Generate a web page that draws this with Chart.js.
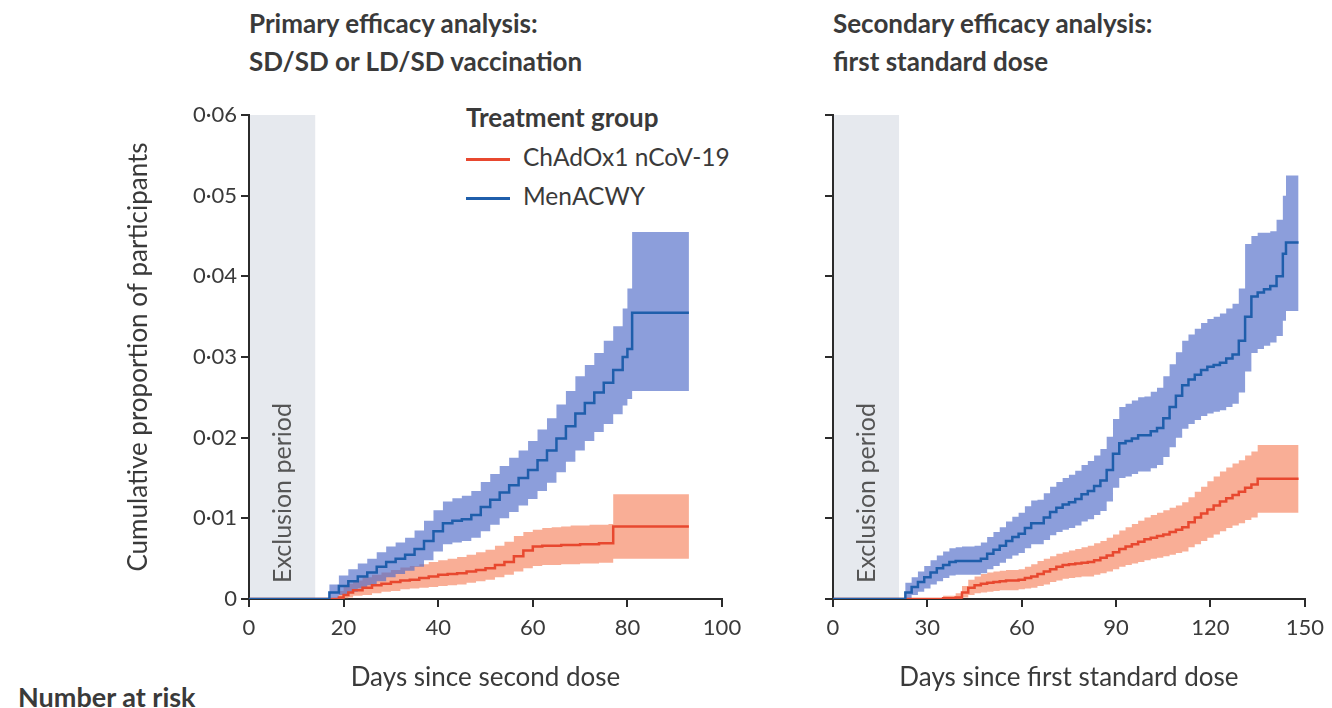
<!DOCTYPE html>
<html>
<head>
<meta charset="utf-8">
<script src="https://cdn.jsdelivr.net/npm/chart.js@4.4.1/dist/chart.umd.min.js"></script>
<style>
  body { margin: 0; width: 1332px; height: 708px; overflow: hidden; background: #fff; font-family: Lato, "Noto Sans", sans-serif; color: #3a3a3a; }
  .panel { position: absolute; top: 0; }
  .title { position: absolute; top: 4px; font-weight: bold; font-size: 26px; line-height: 38px; white-space: nowrap; }
  .legend { position: absolute; left: 466px; top: 98px; font-size: 24.5px; line-height: 39px; white-space: nowrap; }
  .legend b { display: block; font-size: 26px; }
  .legend .sw { display: inline-block; width: 44px; height: 3px; margin-right: 13px; vertical-align: middle; }
  .risk { position: absolute; left: 18px; top: 681px; font-weight: bold; font-size: 27px; line-height: 32px; }
</style>
</head>
<body>
<div class="title" style="left:249px">Primary efficacy analysis:<br>SD/SD or LD/SD vaccination</div>
<div class="title" style="left:833px">Secondary efficacy analysis:<br>first standard dose</div>
<div class="legend">
  <b>Treatment group</b>
  <div><span class="sw" style="background:#e8482f"></span>ChAdOx1 nCoV-19</div>
  <div><span class="sw" style="background:#1f5eab"></span>MenACWY</div>
</div>
<div class="risk">Number at risk</div>
<canvas id="primary" class="panel" style="left:0" width="760" height="708"></canvas>
<canvas id="secondary" class="panel" style="left:760px" width="572" height="708"></canvas>
<script>
// Primary analysis: days since second dose
const primaryExclusion = 14;
const primaryMenDays = [0, 15, 17, 19, 21, 23, 25, 27, 29, 31, 33, 35, 37, 39, 41, 43, 45, 47, 49, 51, 53, 55,
  57, 59, 61, 63, 65, 67, 69, 71, 73, 75, 77, 79, 80, 81, 93];
const primaryMenLine = [0, 0, .0008, .0016, .0022, .0028, .0033, .0040, .0046, .0050, .0055, .0062,
  .0072, .0084, .0094, .0097, .0099, .0104, .0114, .0123, .0132, .0141,
  .0150, .0160, .0172, .0184, .0199, .0214, .0230, .0243, .0256, .0268,
  .0284, .0300, .0310, .0355, .0355];
const primaryMenHigh = [0, 0, .0018, .0029, .0037, .0044, .0050, .0058, .0065, .0070, .0076, .0085,
  .0097, .0110, .0121, .0125, .0128, .0134, .0145, .0155, .0165, .0175,
  .0184, .0196, .0210, .0224, .0241, .0258, .0276, .0290, .0305, .0320,
  .0338, .0360, .0385, .0455, .0455];
const primaryMenLow = [0, 0, .0001, .0005, .0009, .0013, .0017, .0022, .0027, .0031, .0035, .0040,
  .0048, .0059, .0068, .0070, .0072, .0076, .0084, .0092, .0100, .0108,
  .0116, .0124, .0134, .0144, .0157, .0170, .0184, .0196, .0207, .0217,
  .0229, .0240, .0248, .0258, .0258];

const primaryChadDays = [0, 18, 19, 20, 21, 22, 24, 26, 28, 30, 32, 34, 36, 38, 40, 42, 44, 46, 48, 50, 52, 54,
  56, 58, 60, 62, 64, 66, 68, 70, 72, 74, 76, 77, 93];
const primaryChadLine = [0, 0, .0002, .0005, .0008, .0011, .0014, .0017, .0019, .0021, .0023, .0024,
  .0026, .0028, .0030, .0031, .0032, .0034, .0036, .0038, .0042, .0046,
  .0053, .0060, .0065, .0066, .0066, .0067, .0067, .0068, .0068, .0069, .0069, .0090, .0090];
const primaryChadHigh = [0, 0, .0010, .0015, .0019, .0023, .0027, .0030, .0033, .0036, .0039, .0041,
  .0043, .0046, .0048, .0050, .0052, .0055, .0058, .0061, .0066, .0071,
  .0078, .0083, .0086, .0088, .0089, .0090, .0091, .0091, .0092, .0092, .0093, .0130, .0130];
const primaryChadLow = [0, 0, 0, .0001, .0002, .0004, .0005, .0007, .0009, .0010, .0012, .0013,
  .0014, .0015, .0016, .0017, .0018, .0020, .0022, .0024, .0027, .0030,
  .0034, .0038, .0041, .0042, .0042, .0043, .0043, .0044, .0044, .0045, .0045, .0050, .0050];

// Secondary analysis: days since first standard dose
const secondaryExclusion = 21;
const secondaryMenDays = [0, 21, 23, 25, 27, 29, 31, 33, 35, 37, 39, 41, 43, 45, 47, 49, 51, 53, 55, 57, 59, 61,
  63, 65, 67, 69, 71, 73, 75, 77, 79, 81, 83, 85, 87, 89, 91, 93, 95, 97, 99, 101,
  103, 105, 107, 109, 111, 113, 115, 117, 119, 121, 123, 125, 127, 129, 131, 133, 135, 137, 139, 141,
  143, 144, 148];
const secondaryMenLine = [0, 0, .0008, .0015, .0021, .0027, .0033, .0038, .0042, .0046, .0047, .0047,
  .0047, .0047, .0050, .0056, .0061, .0066, .0072, .0077, .0081, .0088,
  .0094, .0094, .0101, .0108, .0113, .0117, .0120, .0124, .0130, .0134,
  .0140, .0147, .0160, .0180, .0193, .0196, .0199, .0203, .0203, .0208,
  .0212, .0224, .0238, .0252, .0265, .0272, .0278, .0284, .0288, .0290,
  .0293, .0298, .0303, .0320, .0350, .0375, .0380, .0384, .0388, .0400,
  .0428, .0442, .0442];
const secondaryMenHigh = [0, 0, .0020, .0027, .0034, .0041, .0048, .0054, .0059, .0063, .0064, .0065,
  .0065, .0066, .0070, .0077, .0083, .0089, .0096, .0102, .0107, .0115,
  .0122, .0123, .0131, .0139, .0145, .0150, .0154, .0159, .0166, .0171,
  .0178, .0186, .0201, .0223, .0238, .0242, .0246, .0250, .0251, .0257,
  .0262, .0276, .0291, .0306, .0320, .0328, .0335, .0342, .0347, .0350,
  .0354, .0360, .0366, .0385, .0440, .0450, .0454, .0454, .0456, .0470,
  .0500, .0525, .0525];
const secondaryMenLow = [0, 0, .0001, .0005, .0009, .0013, .0018, .0022, .0026, .0029, .0030, .0030,
  .0030, .0030, .0032, .0037, .0041, .0045, .0050, .0054, .0057, .0063,
  .0068, .0068, .0073, .0079, .0083, .0086, .0088, .0091, .0096, .0099,
  .0104, .0109, .0121, .0138, .0150, .0152, .0155, .0158, .0158, .0162,
  .0166, .0176, .0188, .0200, .0211, .0217, .0222, .0227, .0230, .0232,
  .0234, .0238, .0242, .0256, .0282, .0305, .0310, .0314, .0318, .0326,
  .0345, .0357, .0357];

const secondaryChadDays = [0, 30, 35, 39, 41, 43, 45, 47, 49, 51, 53, 55, 57, 59, 61, 63, 65, 67, 69, 71, 73, 75,
  77, 79, 81, 83, 85, 87, 89, 91, 93, 95, 97, 99, 101, 103, 105, 107, 109, 111, 113, 115,
  117, 119, 121, 123, 125, 127, 129, 131, 133, 135, 148];
const secondaryChadLine = [0, 0, .0001, .0002, .0008, .0014, .0017, .0019, .0020, .0021, .0022, .0023,
  .0023, .0024, .0026, .0028, .0031, .0034, .0037, .0040, .0042, .0043,
  .0044, .0045, .0046, .0048, .0051, .0054, .0058, .0062, .0065, .0068,
  .0071, .0074, .0076, .0078, .0080, .0083, .0086, .0089, .0095, .0101,
  .0106, .0111, .0116, .0121, .0125, .0129, .0133, .0138, .0142, .0149, .0149];
const secondaryChadHigh = [0, 0, .0004, .0007, .0016, .0024, .0028, .0031, .0033, .0034, .0035, .0036,
  .0036, .0037, .0040, .0043, .0047, .0050, .0053, .0056, .0058, .0060,
  .0062, .0064, .0066, .0069, .0072, .0076, .0080, .0085, .0089, .0093,
  .0097, .0101, .0104, .0107, .0110, .0113, .0116, .0120, .0126, .0133,
  .0139, .0146, .0152, .0158, .0163, .0168, .0172, .0178, .0183, .0191, .0191];
const secondaryChadLow = [0, 0, 0, 0, .0002, .0005, .0007, .0008, .0009, .0010, .0011, .0011,
  .0011, .0012, .0013, .0014, .0016, .0018, .0021, .0023, .0025, .0026,
  .0027, .0028, .0028, .0030, .0032, .0034, .0037, .0040, .0042, .0044,
  .0046, .0048, .0050, .0051, .0053, .0055, .0057, .0059, .0064, .0068,
  .0072, .0076, .0080, .0084, .0088, .0091, .0094, .0098, .0101, .0107, .0107];

const FONT = 'Lato, "Noto Sans", sans-serif';
const TEXT = '#3a3a3a';
const AXIS = '#2b2b2b';
const BLUE = '#1f5eab';
const RED = '#e8482f';
const BLUE_BAND = 'rgba(80, 108, 200, 0.66)';
const RED_BAND = 'rgba(246, 140, 105, 0.70)';

function pts(days, vals) {
  return days.map((d, i) => ({ x: d, y: vals[i] }));
}

// zona gris del periodo de exclusión + texto vertical
const exclusionPlugin = {
  id: 'exclusion',
  beforeDraw(chart, args, opts) {
    const { ctx, scales: { x, y } } = chart;
    const x0 = x.getPixelForValue(0);
    const x1 = x.getPixelForValue(opts.end);
    const yTop = y.getPixelForValue(y.max);
    const yBot = y.getPixelForValue(0);
    ctx.save();
    ctx.fillStyle = '#e6e9ee';
    ctx.fillRect(x0, yTop, x1 - x0, yBot - yTop);
    ctx.translate((x0 + x1) / 2 + 1, yBot - 16);
    ctx.rotate(-Math.PI / 2);
    ctx.fillStyle = '#555';
    ctx.font = '25px ' + FONT;
    ctx.textAlign = 'left';
    ctx.textBaseline = 'middle';
    ctx.fillText('Exclusion period', 0, 0);
    ctx.restore();
  }
};

function band(days, high, low, color, order) {
  return [
    { data: pts(days, high), fill: '+1', backgroundColor: color, borderWidth: 0, borderColor: 'transparent', stepped: true, pointRadius: 0, order: order },
    { data: pts(days, low), fill: false, borderWidth: 0, borderColor: 'transparent', stepped: true, pointRadius: 0, order: order }
  ];
}

function line(days, vals, color) {
  return { data: pts(days, vals), fill: false, borderColor: color, borderWidth: 2.5, stepped: true, pointRadius: 0, order: 0 };
}

function makeChart(id, cfg) {
  const axisGrid = { drawOnChartArea: false, drawTicks: true, tickLength: 8, color: AXIS, lineWidth: 2 };
  const axisBorder = { color: AXIS, width: 2 };
  return new Chart(document.getElementById(id), {
    type: 'line',
    data: {
      datasets: [
        ...band(cfg.menDays, cfg.menHigh, cfg.menLow, BLUE_BAND, 2),
        ...band(cfg.chadDays, cfg.chadHigh, cfg.chadLow, RED_BAND, 3),
        line(cfg.menDays, cfg.menLine, BLUE),
        line(cfg.chadDays, cfg.chadLine, RED)
      ]
    },
    options: {
      responsive: false,
      animation: false,
      layout: { padding: cfg.padding },
      plugins: { legend: { display: false }, tooltip: { enabled: false }, exclusion: { end: cfg.exclusion } },
      scales: {
        x: {
          type: 'linear', min: 0, max: cfg.xMax,
          ticks: { stepSize: cfg.xStep, font: { family: FONT, size: 22 }, color: TEXT, padding: 8, maxRotation: 0 },
          grid: axisGrid, border: axisBorder,
          title: { display: true, text: cfg.xTitle, font: { family: FONT, size: 26 }, color: TEXT, padding: { top: 0, bottom: 1 } },
          afterFit: s => { s.height = 95; }
        },
        y: {
          min: 0, max: 0.06,
          ticks: {
            stepSize: 0.01, font: { family: FONT, size: 22 }, color: TEXT, padding: 4,
            callback: v => cfg.yLabels ? (v === 0 ? '0' : v.toFixed(2).replace('.', '·')) : ''
          },
          grid: axisGrid, border: axisBorder,
          title: { display: cfg.yLabels, text: 'Cumulative proportion of participants', font: { family: FONT, size: 26 }, color: TEXT, padding: 0 },
          afterFit: s => { s.width = cfg.yWidth; }
        }
      }
    },
    plugins: [exclusionPlugin]
  });
}

makeChart('primary', {
  menDays: primaryMenDays, menLine: primaryMenLine, menHigh: primaryMenHigh, menLow: primaryMenLow,
  chadDays: primaryChadDays, chadLine: primaryChadLine, chadHigh: primaryChadHigh, chadLow: primaryChadLow,
  exclusion: primaryExclusion, xMax: 100, xStep: 20, xTitle: 'Days since second dose',
  yLabels: true, yWidth: 126, padding: { left: 123, top: 115, right: 38, bottom: 14 }
});

makeChart('secondary', {
  menDays: secondaryMenDays, menLine: secondaryMenLine, menHigh: secondaryMenHigh, menLow: secondaryMenLow,
  chadDays: secondaryChadDays, chadLine: secondaryChadLine, chadHigh: secondaryChadHigh, chadLow: secondaryChadLow,
  exclusion: secondaryExclusion, xMax: 150, xStep: 30, xTitle: 'Days since first standard dose',
  yLabels: false, yWidth: 73, padding: { left: 0, top: 115, right: 27, bottom: 14 }
});
</script>
</body>
</html>
